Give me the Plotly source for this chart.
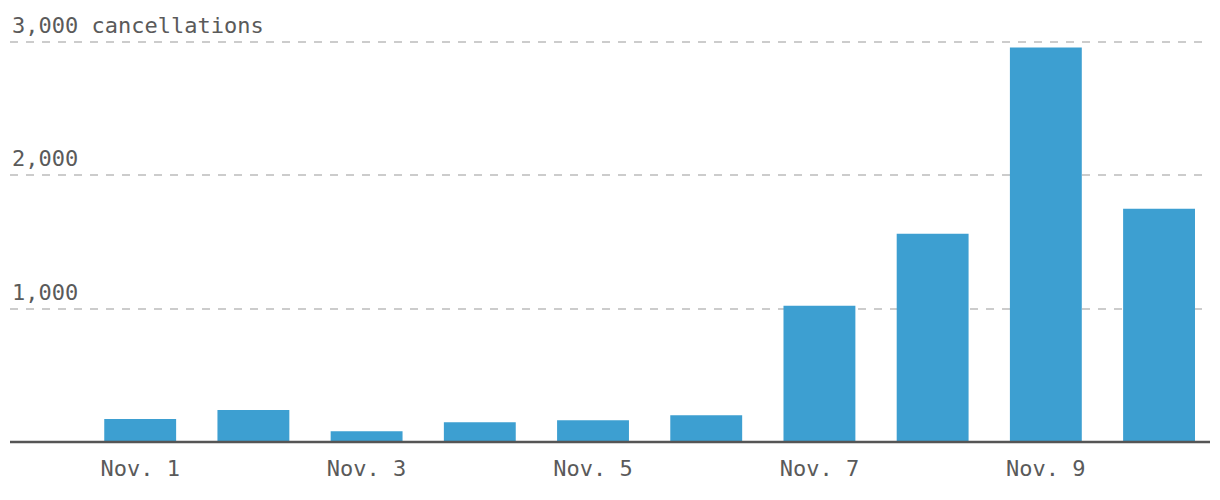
import plotly.graph_objects as go

days = ["Nov. 1", "Nov. 2", "Nov. 3", "Nov. 4", "Nov. 5", "Nov. 6", "Nov. 7", "Nov. 8", "Nov. 9", "Nov. 10"]
cancellations = [172, 240, 80, 148, 163, 200, 1022, 1562, 2958, 1750]
tick_days = ["Nov. 1", "Nov. 3", "Nov. 5", "Nov. 7", "Nov. 9"]
y_grid = [1000, 2000, 3000]
y_labels = ["1,000", "2,000", "3,000 cancellations"]

FONT = "DejaVu Sans Mono"
TXT = "#5a5a5a"
FS = 22

fig = go.Figure()
fig.add_trace(go.Bar(x=days, y=cancellations, marker=dict(color="#3d9fd1", line=dict(width=0)),
                     width=0.635, hoverinfo="x+y"))

for v, lab in zip(y_grid, y_labels):
    fig.add_annotation(x=0, xref="paper", xanchor="left", y=v, yref="y", yanchor="bottom",
                       yshift=2, text=lab, showarrow=False,
                       font=dict(family=FONT, size=FS, color=TXT))

fig.add_shape(type="line", xref="paper", x0=0, x1=1, yref="paper", y0=0, y1=0,
              line=dict(color="#555555", width=2.5), layer="above")

fig.update_layout(
    width=1212, height=492,
    margin=dict(l=2, r=10, t=30, b=58),
    plot_bgcolor="white", paper_bgcolor="white",
    showlegend=False, bargap=0.365,
    font=dict(family=FONT, size=FS, color=TXT),
    xaxis=dict(type="category", range=[-1.15, 9.45], tickmode="array", tickvals=tick_days,
               ticktext=tick_days, showgrid=False, showline=False, ticks="",
               ticklabelstandoff=11, tickfont=dict(family=FONT, size=FS, color=TXT)),
    yaxis=dict(range=[0, 3030], tickvals=y_grid, showticklabels=False, showgrid=True,
               gridcolor="#cccccc", gridwidth=2, griddash="8px,8px", zeroline=False,
               showline=False),
)

fig.write_html("out.html")
